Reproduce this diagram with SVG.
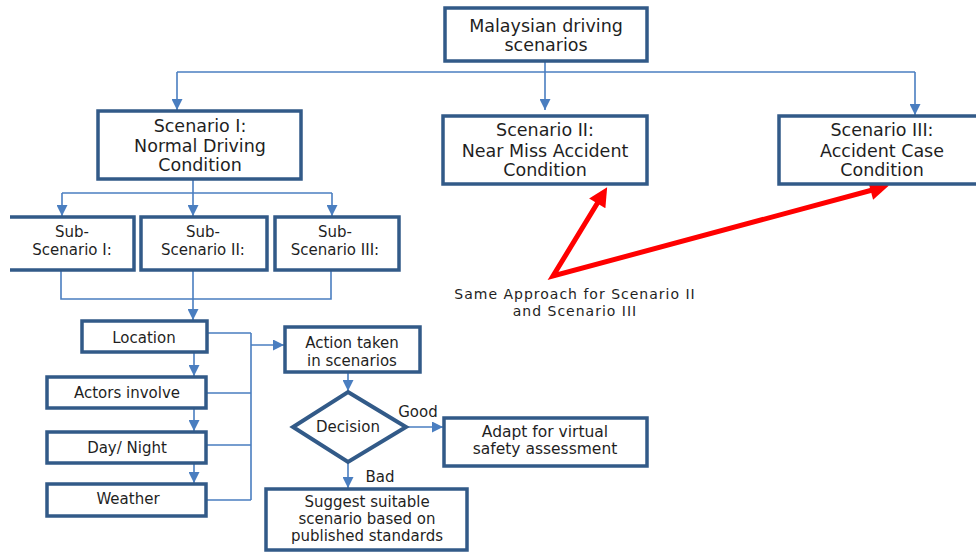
<svg xmlns="http://www.w3.org/2000/svg" width="976" height="552" viewBox="0 0 976 552">
<defs>
<style>
.box{fill:#fff;stroke:#325A88;stroke-width:3.5}
.edge{fill:none;stroke:#4A7EC0;stroke-width:1.6}
.t{font-family:"DejaVu Sans","Verdana",sans-serif;fill:#1f1f1f;text-anchor:middle}
.big{font-size:17.5px}
.mid{font-size:15.5px}
.sub{font-size:15px}
.sm{font-size:15px}
.note{font-size:14px;letter-spacing:1px}
.red{fill:none;stroke:#FF0000;stroke-width:5;stroke-linejoin:miter}
</style>
<marker id="arr" viewBox="0 0 10 10" refX="10" refY="5" markerWidth="11" markerHeight="11" markerUnits="userSpaceOnUse" orient="auto">
<path d="M0,0 L10,5 L0,10 z" fill="#4A7EC0"/>
</marker>
<marker id="rarr" viewBox="0 0 10 10" refX="5" refY="5" markerWidth="4.2" markerHeight="3.8" markerUnits="strokeWidth" orient="auto-start-reverse">
<path d="M0,0 L10,5 L0,10 z" fill="#FF0000"/>
</marker>
</defs>
<rect width="976" height="552" fill="#fff"/>

<g id="connectors">
<path class="edge" d="M545,61 V110" marker-end="url(#arr)"/>
<path class="edge" d="M177,72 H915"/>
<path class="edge" d="M177,72 V110" marker-end="url(#arr)"/>
<path class="edge" d="M915,72 V115" marker-end="url(#arr)"/>
<path class="edge" d="M193,179 V216" marker-end="url(#arr)"/>
<path class="edge" d="M62,193 H332"/>
<path class="edge" d="M62,193 V216" marker-end="url(#arr)"/>
<path class="edge" d="M332,193 V216" marker-end="url(#arr)"/>
<path class="edge" d="M61,270 V299 H331 V270"/>
<path class="edge" d="M193,270 V320" marker-end="url(#arr)"/>
<path class="edge" d="M194,352 V376" marker-end="url(#arr)"/>
<path class="edge" d="M194,408 V431" marker-end="url(#arr)"/>
<path class="edge" d="M194,463 V483" marker-end="url(#arr)"/>
<path class="edge" d="M207,333 H251 M206,393 H251 M206,445 H251 M206,500 H251 M251,333 V500"/>
<path class="edge" d="M251,345 H284" marker-end="url(#arr)"/>
<path class="edge" d="M348,372 V391" marker-end="url(#arr)"/>
<path class="edge" d="M406,427 H443" marker-end="url(#arr)"/>
<path class="edge" d="M348,462 V488" marker-end="url(#arr)"/>
<path class="red" d="M602.2,195.3 L553,276 L879.8,188" marker-start="url(#rarr)" marker-end="url(#rarr)"/>
</g>

<g id="malaysian">
<rect class="box" x="445" y="8" width="202" height="53"/>
<text class="t big" x="546" y="32">Malaysian driving</text>
<text class="t big" x="546" y="51">scenarios</text>
</g>

<g id="scenario1">
<rect class="box" x="98" y="111" width="203" height="68"/>
<text class="t big" x="200" y="132">Scenario I:</text>
<text class="t big" x="200" y="152">Normal Driving</text>
<text class="t big" x="200" y="171">Condition</text>
</g>

<g id="scenario2">
<rect class="box" x="443" y="116" width="204" height="68"/>
<text class="t big" x="545" y="136">Scenario II:</text>
<text class="t big" x="545" y="157">Near Miss Accident</text>
<text class="t big" x="545" y="176">Condition</text>
</g>

<g id="scenario3">
<rect class="box" x="779" y="116" width="210" height="68"/>
<text class="t big" x="882" y="136">Scenario III:</text>
<text class="t big" x="882" y="157">Accident Case</text>
<text class="t big" x="882" y="176">Condition</text>
</g>

<g id="sub1">
<rect x="10" y="217" width="124" height="53" fill="#fff"/>
<path d="M10,217 H134 V270 H10" fill="none" stroke="#325A88" stroke-width="3.5"/>
<text class="t sub" x="72" y="237">Sub-</text>
<text class="t sub" x="72" y="255">Scenario I:</text>
</g>

<g id="sub2">
<rect class="box" x="141" y="217" width="126" height="53"/>
<text class="t sub" x="203" y="237">Sub-</text>
<text class="t sub" x="203" y="255">Scenario II:</text>
</g>

<g id="sub3">
<rect class="box" x="275" y="217" width="124" height="53"/>
<text class="t sub" x="335" y="237">Sub-</text>
<text class="t sub" x="335" y="255">Scenario III:</text>
</g>

<g id="location">
<rect class="box" x="82" y="321" width="125" height="31"/>
<text class="t sm" x="144" y="343">Location</text>
</g>

<g id="actors">
<rect class="box" x="47" y="377" width="159" height="31"/>
<text class="t sm" x="127" y="398">Actors involve</text>
</g>

<g id="daynight">
<rect class="box" x="47" y="432" width="159" height="31"/>
<text class="t sm" x="127" y="453">Day/ Night</text>
</g>

<g id="weather">
<rect class="box" x="47" y="484" width="159" height="32"/>
<text class="t sm" x="128" y="504">Weather</text>
</g>

<g id="action">
<rect class="box" x="285" y="327" width="135" height="45"/>
<text class="t sm" x="352" y="348">Action taken</text>
<text class="t sm" x="352" y="366">in scenarios</text>
</g>

<g id="decision">
<path d="M348,392 L406,427 L348,462 L293,427 Z" fill="#fff" stroke="#325A88" stroke-width="4"/>
<text class="t sm" x="348" y="432">Decision</text>
</g>

<g id="labels">
<text class="t sm" x="418" y="417">Good</text>
<text class="t sm" x="380" y="482">Bad</text>
</g>

<g id="adapt">
<rect class="box" x="444" y="418" width="203" height="48"/>
<text class="t mid" x="545" y="437">Adapt for virtual</text>
<text class="t mid" x="545" y="454">safety assessment</text>
</g>

<g id="suggest">
<rect class="box" x="266" y="489" width="201" height="61"/>
<text class="t sm" x="367" y="507">Suggest suitable</text>
<text class="t sm" x="367" y="524">scenario based on</text>
<text class="t sm" x="367" y="541">published standards</text>
</g>

<g id="note">
<text class="t note" x="575" y="299">Same Approach for Scenario II</text>
<text class="t note" x="575" y="316">and Scenario III</text>
</g>
</svg>
